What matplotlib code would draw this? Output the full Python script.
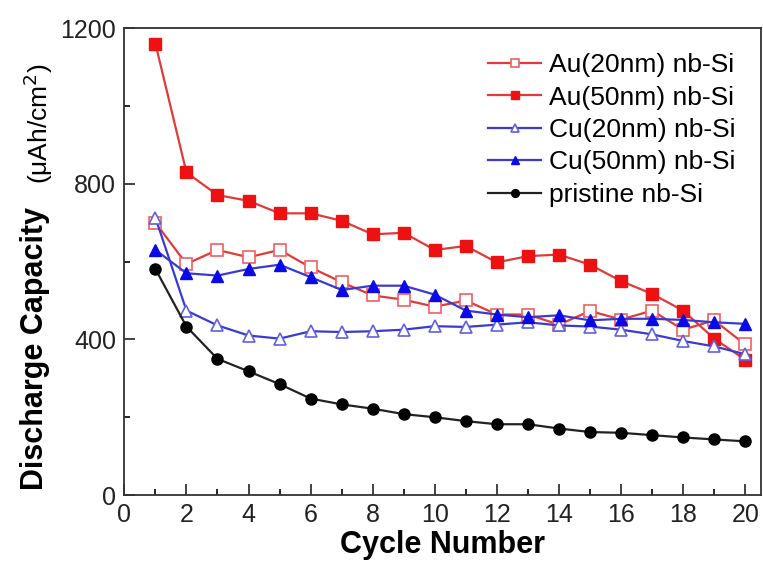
import numpy as np
import matplotlib
matplotlib.use('Agg')
import matplotlib.pyplot as plt
from matplotlib.ticker import MultipleLocator

#------------------------- Datos -------------------------
ciclos = list(range(1, 21))

au20 = [700, 594, 630, 611, 630, 585, 547, 513, 502, 484,
        500, 464, 464, 438, 473, 451, 474, 425, 449, 387]
au50 = [1160, 829, 771, 756, 724, 724, 705, 670, 674, 630,
        640, 598, 614, 618, 592, 550, 517, 474, 402, 348]
cu20 = [713, 474, 436, 410, 402, 421, 419, 421, 425, 434,
        432, 438, 444, 436, 433, 425, 413, 396, 382, 362]
cu50 = [630, 570, 564, 581, 592, 560, 527, 538, 538, 515,
        474, 464, 457, 462, 449, 453, 453, 450, 444, 440]
pristine = [581, 433, 350, 318, 285, 248, 233, 222, 208, 200,
            190, 182, 182, 171, 162, 160, 154, 148, 143, 138]

etiquetas = ['Au(20nm) nb-Si', 'Au(50nm) nb-Si', 'Cu(20nm) nb-Si',
             'Cu(50nm) nb-Si', 'pristine nb-Si']

#------------------------- Figura -------------------------
plt.rcParams['font.family'] = ['Liberation Sans', 'DejaVu Sans']

fig = plt.figure(figsize=(7.63, 5.73), dpi=100)
ax = fig.add_axes([0.163, 0.136, 0.834, 0.815])

rojo_l = '#e03a3a'
rojo_m = '#ee1111'
azul_l = '#3a3ad0'
azul_m = '#0a0ae6'

ax.plot(ciclos, au20, '-s', color=rojo_l, lw=1.6, ms=8, mfc='white',
        mec='#f06060', mew=1.2, label=etiquetas[0])
ax.plot(ciclos, au50, '-s', color=rojo_l, lw=1.6, ms=8, mfc=rojo_m,
        mec=rojo_m, label=etiquetas[1])
ax.plot(ciclos, cu20, '-^', color=azul_l, lw=1.6, ms=9, mfc='white',
        mec='#6060e0', mew=1.2, label=etiquetas[2])
ax.plot(ciclos, cu50, '-^', color=azul_l, lw=1.6, ms=9, mfc=azul_m,
        mec=azul_m, label=etiquetas[3])
ax.plot(ciclos, pristine, '-o', color='#222222', lw=1.6, ms=8, mfc='black',
        mec='black', label=etiquetas[4])

ax.set_xlim(0, 20.5)
ax.set_ylim(0, 1200)
ax.xaxis.set_major_locator(MultipleLocator(2))
ax.xaxis.set_minor_locator(MultipleLocator(1))
ax.yaxis.set_major_locator(MultipleLocator(400))
ax.yaxis.set_minor_locator(MultipleLocator(200))
ax.tick_params(which='major', direction='in', length=8, width=1.2,
               labelsize=18, pad=6, colors='#222222')
ax.tick_params(which='minor', direction='in', length=4, width=1.2)
for s in ax.spines.values():
    s.set_linewidth(1.3)
    s.set_color('#333333')

ax.set_xlabel('Cycle Number', fontsize=22, fontweight='bold', labelpad=2)

# etiqueta del eje y en dos partes (la unidad va en letra normal)
fig.text(0.046, 0.392, 'Discharge Capacity', rotation=90, fontsize=22,
         fontweight='bold', ha='center', va='center')
fig.text(0.050, 0.785, '(μAh/cm$^2$)', rotation=90, fontsize=19,
         ha='center', va='center')

ax.legend(loc='upper right', frameon=False, fontsize=19, handlelength=2.0,
          labelspacing=0.32, borderaxespad=0.55, handletextpad=0.3,
          markerscale=0.7)

fig.savefig('out.png', dpi=100)
